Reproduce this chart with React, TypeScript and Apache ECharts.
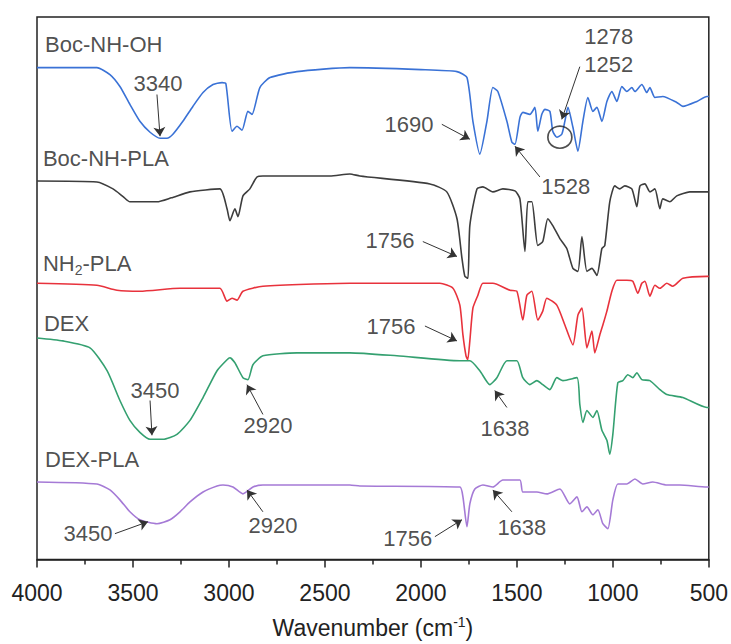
import React, { useEffect, useRef } from "react";
import * as echarts from "echarts";

// Wavenumber (cm-1) vs. transmittance (a.u., stacked as in the original figure)
const bocNHOH: number[][] = [
  [4000, 495], [3688, 495], [3620, 488], [3568, 476], [3516, 458], [3464, 441], [3411, 430], [3359, 424],
  [3323, 424], [3292, 428], [3240, 441], [3188, 456], [3135, 470], [3083, 478], [3036, 480], [3016, 479],
  [2984, 431], [2958, 436], [2932, 432], [2901, 451],
  [2880, 448], [2839, 475], [2786, 485], [2646, 491], [2370, 495], [2000, 493], [1812, 491], [1760, 485],
  [1729, 441], [1693, 408], [1656, 441], [1625, 475], [1599, 471], [1552, 441], [1526, 420], [1510, 418],
  [1484, 445], [1469, 450], [1432, 448], [1406, 455], [1391, 431], [1370, 448], [1354, 453], [1328, 451],
  [1313, 431], [1292, 425], [1266, 428], [1250, 441], [1234, 455], [1208, 435], [1182, 411], [1156, 441],
  [1130, 465], [1104, 451], [1083, 455], [1057, 441], [1031, 461], [1005, 471], [979, 461], [953, 476],
  [927, 471], [901, 475], [885, 471], [849, 478], [823, 470], [807, 475], [781, 465], [740, 466],
  [667, 460], [635, 456], [562, 461], [510, 466], [500, 466],
];

const bocNHPLA: number[][] = [
  [4000, 381], [3688, 380], [3604, 373], [3550, 365], [3516, 360], [3375, 360], [3300, 364], [3203, 370],
  [3047, 373], [3010, 353],
  [2995, 341], [2969, 353], [2953, 345], [2927, 366], [2891, 373], [2854, 385], [2823, 386], [2474, 386],
  [2370, 388], [2318, 386], [1953, 378], [1865, 370], [1812, 343], [1786, 303], [1771, 285], [1755, 283],
  [1745, 336], [1708, 373], [1677, 375], [1625, 370], [1573, 373], [1510, 371], [1484, 363], [1458, 310],
  [1443, 360], [1422, 360], [1391, 316], [1365, 320], [1339, 343], [1313, 336], [1276, 323], [1240, 313],
  [1208, 293], [1182, 290], [1161, 325], [1135, 290], [1109, 293], [1083, 286], [1057, 313], [1042, 316],
  [1016, 360], [990, 376], [964, 373], [938, 376], [901, 373], [875, 355], [859, 376], [833, 378],
  [807, 370], [781, 373], [755, 353], [740, 363], [703, 360], [667, 366], [599, 370], [510, 370], [500, 370],
];

const nh2PLA: number[][] = [
  [4000, 278], [3688, 276], [3583, 271], [3464, 270], [3255, 273], [3047, 273], [3010, 260], [2984, 263],
  [2958, 261], [2927, 270], [2823, 275], [2370, 278], [1901, 278], [1833, 273], [1797, 256], [1781, 226],
  [1765, 205], [1756, 201], [1745, 220], [1729, 253], [1703, 266], [1677, 278], [1625, 278], [1536, 271],
  [1500, 270], [1469, 241], [1448, 266], [1422, 270], [1391, 241], [1365, 250], [1344, 263], [1292, 256],
  [1250, 236], [1208, 216], [1182, 246], [1161, 253], [1135, 213], [1109, 230], [1094, 208], [1068, 226],
  [1052, 236], [1031, 250], [1005, 270], [979, 281], [927, 281], [896, 280], [870, 268], [849, 278],
  [833, 280], [807, 265], [781, 276], [755, 273], [719, 278], [688, 275], [635, 283], [510, 285], [500, 285],
];

const dex: number[][] = [
  [4000, 223], [3865, 220], [3724, 213], [3635, 190], [3568, 160], [3516, 140], [3464, 128], [3411, 121],
  [3344, 121], [3271, 126], [3203, 140], [3135, 163], [3062, 190], [3010, 201], [2995, 203], [2969, 198],
  [2927, 183], [2901, 181], [2875, 196],
  [2823, 205], [2646, 208], [2370, 208], [2125, 205], [1797, 200], [1745, 200], [1693, 190], [1641, 176],
  [1604, 183], [1552, 200], [1500, 200], [1469, 183], [1432, 176], [1396, 180], [1365, 176], [1328, 171],
  [1292, 183], [1260, 180], [1187, 183], [1172, 156], [1156, 138], [1135, 150], [1104, 143], [1083, 150],
  [1057, 130], [1031, 120], [1016, 106], [1000, 126], [974, 178], [948, 180], [922, 186], [896, 183],
  [875, 188], [849, 181], [807, 180], [755, 171], [719, 166], [635, 163], [510, 153], [500, 153],
];

const dexPLA: number[][] = [
  [4000, 78], [3688, 76], [3620, 70], [3568, 60], [3516, 48], [3464, 40], [3375, 36], [3307, 40],
  [3255, 48], [3203, 58], [3135, 68], [3062, 74], [3031, 75], [2979, 73], [2927, 66], [2875, 73],
  [2823, 75], [2370, 75], [2318, 74],
  [1797, 73], [1781, 63], [1760, 33], [1745, 56], [1719, 71], [1677, 75], [1625, 73], [1573, 80],
  [1484, 80], [1469, 68], [1396, 68], [1344, 66], [1276, 71], [1224, 56], [1187, 63], [1161, 48],
  [1135, 53], [1104, 45], [1078, 50], [1052, 36], [1026, 31], [1000, 60], [974, 76], [927, 76],
  [885, 81], [844, 76], [792, 78], [719, 75], [651, 75], [510, 73], [500, 73],
];

const xTicks = { min: 500, max: 4000, interval: 500 };

const sampleNames = ["Boc-NH-OH", "Boc-NH-PLA", "NH{sub|2}-PLA", "DEX", "DEX-PLA"];
const sampleNameAt: number[][] = [[3958, 518], [3969, 404], [3969, 298], [3964, 238], [3958, 101]];

// peak annotations: text, text position, arrow start, arrow end
const peakTexts = ["3340", "1690", "1528", "1278", "1252", "1756", "1756", "3450", "2920", "1638", "3450", "2920", "1756", "1638"];
const peakTextAt: number[][] = [
  [3370, 479], [2062, 438], [1245, 375], [1021, 526], [1021, 498], [2161, 321], [2156, 235],
  [3385, 170], [2797, 135], [1562, 132], [3734, 26], [2771, 34], [2068, 21], [1474, 32],
];
const arrowFrom: number[][] = [
  [3375, 468], [1891, 438], [1380, 385], null as any, [1172, 496], [1990, 320], [1979, 235],
  [3411, 160], [2823, 146], [1552, 153], [3594, 26], [2823, 48], [1927, 23], [1526, 48],
];
const arrowTo: number[][] = [
  [3359, 426], [1745, 423], [1510, 416], null as any, [1266, 443], [1812, 305], [1812, 220],
  [3401, 125], [2906, 176], [1615, 170], [3422, 38], [2906, 70], [1786, 40], [1625, 70],
];
const circledPeak: number[][] = [[1276, 425]];

const FONT = "'Liberation Sans', Arial, Helvetica, sans-serif";
const TEXT = "#222";

export default function App() {
  const ref = useRef<HTMLDivElement>(null);
  useEffect(() => {
    if (!ref.current) return;
    const chart = echarts.init(ref.current, undefined, { renderer: "svg" });
    const traces = [
      { name: "Boc-NH-OH", data: bocNHOH, color: "#3a72d6" },
      { name: "Boc-NH-PLA", data: bocNHPLA, color: "#3d3d3d" },
      { name: "NH2-PLA", data: nh2PLA, color: "#e8323c" },
      { name: "DEX", data: dex, color: "#34a070" },
      { name: "DEX-PLA", data: dexPLA, color: "#a57ad6" },
    ];
    const arrows = arrowFrom
      .map((f, i) => (f ? { coords: [f, arrowTo[i]] } : null))
      .filter(Boolean);
    chart.setOption({
      animation: false,
      textStyle: { fontFamily: FONT },
      grid: { left: 37, right: 22, top: 17, bottom: 81, show: true, borderColor: TEXT, borderWidth: 1.5 },
      xAxis: {
        type: "value",
        inverse: true,
        min: xTicks.min,
        max: xTicks.max,
        interval: xTicks.interval,
        name: "Wavenumber (cm{sup|-1})",
        nameLocation: "middle",
        nameGap: 55,
        nameTextStyle: {
          fontSize: 23, color: TEXT, fontFamily: FONT,
          rich: { sup: { fontSize: 14, color: TEXT, fontFamily: FONT, padding: [0, 0, 12, 0] } },
        },
        axisLine: { show: true, lineStyle: { color: TEXT, width: 1.5 } },
        axisTick: { show: true, length: 8, lineStyle: { color: TEXT, width: 1.5 } },
        minorTick: { show: true, splitNumber: 2, length: 5, lineStyle: { color: TEXT, width: 1.5 } },
        axisLabel: { fontSize: 23, color: TEXT, margin: 22, fontFamily: FONT, formatter: (v: number) => String(v) },
        splitLine: { show: false },
      },
      yAxis: {
        type: "value", min: 0, max: 546,
        axisLine: { show: false }, axisTick: { show: false }, axisLabel: { show: false }, splitLine: { show: false },
      },
      series: [
        ...traces.map((t) => ({
          type: "line",
          name: t.name,
          data: t.data,
          showSymbol: false,
          symbol: "none",
          smooth: 0.2,
          lineStyle: { color: t.color, width: 1.6 },
          z: 2,
        })),
        {
          type: "lines",
          coordinateSystem: "cartesian2d",
          data: arrows,
          symbol: ["none", "arrow"],
          symbolSize: 9,
          lineStyle: { color: "#333", width: 1, opacity: 1 },
          z: 4,
        },
        {
          type: "scatter",
          data: circledPeak,
          symbol: "circle",
          symbolSize: [24, 22],
          itemStyle: { color: "rgba(0,0,0,0)", borderColor: "#222", borderWidth: 1.6 },
          z: 4,
        },
        {
          type: "scatter",
          data: peakTextAt.map((p, i) => ({ value: p, name: peakTexts[i] })),
          symbolSize: 0,
          label: {
            show: true, position: "inside", formatter: "{b}",
            fontSize: 22, color: TEXT, fontFamily: FONT,
          },
          z: 5,
        },
        {
          type: "scatter",
          data: sampleNameAt.map((p, i) => ({ value: p, name: sampleNames[i] })),
          symbolSize: 0,
          label: {
            show: true, position: "right", distance: 0, formatter: "{b}",
            fontSize: 22, color: TEXT, fontFamily: FONT,
            rich: { sub: { fontSize: 14, color: TEXT, fontFamily: FONT, padding: [14, 0, 0, 0] } },
          },
          z: 5,
        },
      ],
    });
    return () => chart.dispose();
  }, []);
  return <div ref={ref} style={{ position: "absolute", left: 0, top: 0, width: 731, height: 644 }} />;
}
